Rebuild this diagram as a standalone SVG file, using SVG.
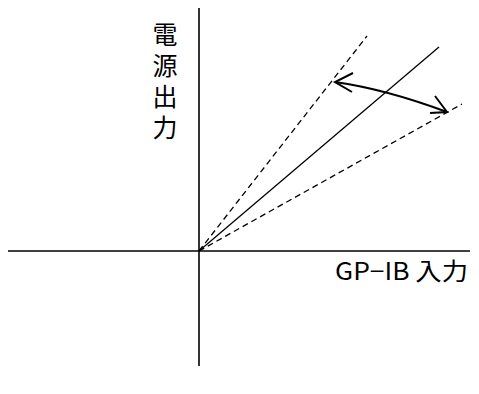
<svg xmlns="http://www.w3.org/2000/svg" width="479" height="394" viewBox="0 0 479 394">
<style>
.ax{stroke:#000;stroke-width:1.6;fill:none}
.ln{stroke:#000;stroke-width:1.3;fill:none}
.ds{stroke:#000;stroke-width:1.3;fill:none;stroke-dasharray:6 4}
.arc{stroke:#000;stroke-width:2;fill:none}
.t{font-family:"Noto Sans CJK JP","Noto Sans",sans-serif;fill:#000}
.v{font-size:25px;writing-mode:vertical-rl;letter-spacing:6px}
.h{font-size:24px}
</style>
<g id="connectors">
<line class="ax" x1="199" y1="8" x2="199" y2="366"/>
<line class="ax" x1="8" y1="251" x2="470" y2="251"/>
<line class="ln" x1="199" y1="251" x2="439" y2="47"/>
<line class="ds" x1="199" y1="251" x2="367" y2="36"/>
<line class="ds" x1="199" y1="251" x2="462" y2="104"/>
<path class="arc" d="M335,82 Q385,89 447,112"/>
<polyline class="arc" points="353,73 335,82 352,92"/>
<polyline class="arc" points="435,96 447,112 430,113"/>
</g>
<g id="y-label">
<text class="t v" x="165" y="22">電源出力</text>
</g>
<g id="x-label">
<text class="t h" x="335" y="280" textLength="133" lengthAdjust="spacingAndGlyphs">GP−IB 入力</text>
</g>
</svg>
